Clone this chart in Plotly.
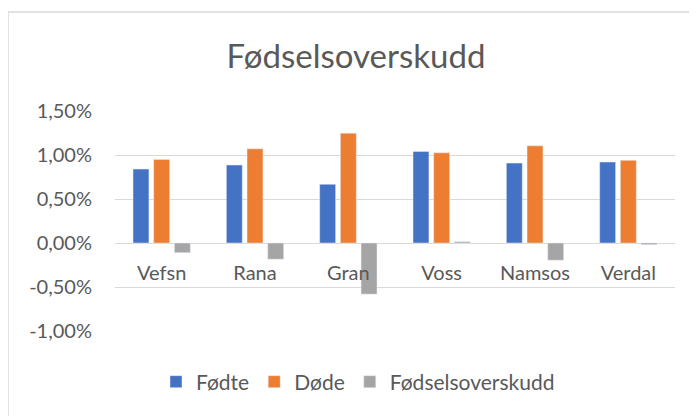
import plotly.graph_objects as go

categories = ["Vefsn", "Rana", "Gran", "Voss", "Namsos", "Verdal"]
fodte = [0.0084, 0.00886, 0.00667, 0.0104, 0.00908, 0.0092]
dode = [0.0095, 0.0107, 0.01248, 0.01025, 0.01104, 0.00939]
overskudd = [-0.0011, -0.00184, -0.00581, 0.00015, -0.00196, -0.00019]
tick_vals = [-0.01, -0.005, 0.0, 0.005, 0.01, 0.015]
tick_labels = ["-1,00%", "-0,50%", "0,00%", "0,50%", "1,00%", "1,50%"]

# page body has an 8px margin; work in page coords shifted by OFF
OFF = 8
W, H = 697 - OFF, 416 - OFF
ml, mr, mt, mb = 115 - OFF, 22, 111 - OFF, 85
pw, ph = W - ml - mr, H - mt - mb
font = "Lato, Carlito, Calibri, sans-serif"
txt = "#595959"
grid = "#d9d9d9"

def px_x(x):  # reference pixel -> paper x
    return (x - OFF - ml) / pw

def px_y(y):  # reference pixel -> paper y
    return (H - (y - OFF) - mb) / ph

fig = go.Figure()
fig.add_trace(go.Bar(name="Fødte", x=categories, y=fodte, marker_color="#4472C4"))
fig.add_trace(go.Bar(name="Døde", x=categories, y=dode, marker_color="#ED7D31"))
fig.add_trace(go.Bar(name="Fødselsoverskudd", x=categories, y=overskudd, marker_color="#A5A5A5"))

ymin, ymax = -0.01, 0.015
zero_pos = (mb + (0 - ymin) / (ymax - ymin) * ph) / H

fig.update_layout(
    width=W, height=H,
    margin=dict(l=ml, r=mr, t=mt, b=mb),
    paper_bgcolor="white", plot_bgcolor="white",
    barmode="group", bargap=0.335, bargroupgap=0.23,
    font=dict(family=font, color=txt),
    title=dict(text="Fødselsoverskudd", x=(356 - OFF) / W, xanchor="center",
               y=1 - (56 - OFF) / H, yanchor="middle",
               font=dict(size=33, color=txt, family=font)),
    legend=dict(orientation="h", x=px_x(358), xanchor="center",
                y=px_y(382), yanchor="middle", font=dict(size=21, color=txt),
                itemwidth=30, traceorder="normal"),
    yaxis=dict(range=[ymin, ymax], tickvals=tick_vals, ticktext=tick_labels,
               showgrid=True, gridcolor=grid, gridwidth=1,
               zeroline=True, zerolinecolor=grid, zerolinewidth=1,
               showline=False, ticks="", tickfont=dict(size=20, color=txt),
               ticklabelstandoff=22),
    xaxis=dict(anchor="free", position=zero_pos, showline=False, ticks="",
               showgrid=False, zeroline=False, tickfont=dict(size=20, color=txt),
               ticklabelstandoff=21),
    shapes=[
        dict(type="line", xref="paper", yref="paper",
             x0=px_x(8), x1=px_x(710), y0=px_y(12), y1=px_y(12),
             line=dict(color=grid, width=1.5)),
        dict(type="line", xref="paper", yref="paper",
             x0=px_x(8), x1=px_x(8), y0=px_y(12), y1=px_y(430),
             line=dict(color=grid, width=1.5)),
    ],
)

fig.write_html("out.html")
